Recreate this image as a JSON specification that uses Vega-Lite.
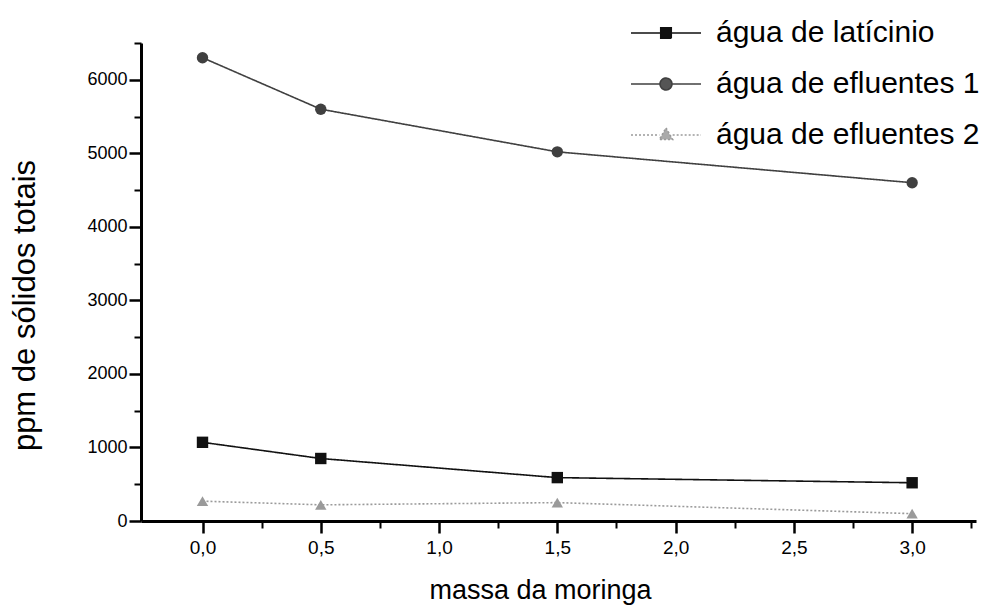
{
  "$schema": "https://vega.github.io/schema/vega-lite/v6.json",
  "width": 835,
  "height": 478,
  "autosize": "none",
  "padding": {"left": 141, "top": 43, "right": 13, "bottom": 87},
  "background": "white",
  "config": {
    "view": {"stroke": null},
    "font": "Liberation Sans",
    "axis": {"grid": false, "domainColor": "black", "tickColor": "black", "labelColor": "black", "titleColor": "black", "labelFont": "Liberation Sans", "titleFont": "Liberation Sans", "titleFontWeight": "normal"}
  },
  "data": {
    "values": [
      {"serie": "água de latícinio", "massa": 0.0, "ppm": 1070},
      {"serie": "água de latícinio", "massa": 0.5, "ppm": 850},
      {"serie": "água de latícinio", "massa": 1.5, "ppm": 590},
      {"serie": "água de latícinio", "massa": 3.0, "ppm": 520},
      {"serie": "água de efluentes 1", "massa": 0.0, "ppm": 6300},
      {"serie": "água de efluentes 1", "massa": 0.5, "ppm": 5600},
      {"serie": "água de efluentes 1", "massa": 1.5, "ppm": 5020},
      {"serie": "água de efluentes 1", "massa": 3.0, "ppm": 4600},
      {"serie": "água de efluentes 2", "massa": 0.0, "ppm": 270},
      {"serie": "água de efluentes 2", "massa": 0.5, "ppm": 220},
      {"serie": "água de efluentes 2", "massa": 1.5, "ppm": 250},
      {"serie": "água de efluentes 2", "massa": 3.0, "ppm": 100}
    ]
  },
  "resolve": {
    "axis": {"x": "independent", "y": "independent"},
    "scale": {"shape": "independent"},
    "legend": {"color": "independent", "shape": "independent", "strokeDash": "independent", "fill": "independent", "stroke": "independent"}
  },
  "layer": [
    {
      "mark": {"type": "line", "strokeWidth": 1.6},
      "encoding": {
        "x": {"field": "massa", "type": "quantitative", "scale": {"domain": [-0.26, 3.27], "nice": false, "zero": false},
          "axis": {"orient": "bottom", "values": [0, 0.5, 1, 1.5, 2, 2.5, 3], "labelExpr": "replace(format(datum.value, '.1f'), '.', ',')", "tickSize": 12, "tickWidth": 2.5, "domainWidth": 3, "labelFontSize": 19, "labelPadding": 5, "title": "massa da moringa", "titleFontSize": 27, "titlePadding": 20, "titleX": 399}},
        "y": {"field": "ppm", "type": "quantitative", "scale": {"domain": [0, 6500], "nice": false},
          "axis": {"orient": "left", "values": [0, 1000, 2000, 3000, 4000, 5000, 6000], "format": "d", "tickSize": 12, "tickWidth": 2.5, "domainWidth": 3, "labelFontSize": 18, "labelPadding": 2, "title": "ppm de sólidos totais", "titleFontSize": 31, "titlePadding": 45, "titleY": 262}},
        "color": {"field": "serie", "type": "nominal", "scale": {"domain": ["água de latícinio", "água de efluentes 1", "água de efluentes 2"], "range": ["#111111", "#404040", "#9a9a9a"]}, "legend": null},
        "strokeDash": {"field": "serie", "type": "nominal", "scale": {"domain": ["água de latícinio", "água de efluentes 1", "água de efluentes 2"], "range": [[1, 0], [1, 0], [2, 2]]}, "legend": null}
      }
    },
    {
      "mark": {"type": "point", "filled": true, "size": 130, "opacity": 1},
      "encoding": {
        "x": {"field": "massa", "type": "quantitative", "axis": null},
        "y": {"field": "ppm", "type": "quantitative", "axis": null},
        "color": {"field": "serie", "type": "nominal", "legend": null},
        "shape": {"field": "serie", "type": "nominal", "scale": {"domain": ["água de latícinio", "água de efluentes 1", "água de efluentes 2"], "range": ["square", "circle", "triangle-up"]}, "legend": null}
      }
    },
    {
      "mark": {"type": "point", "filled": true, "opacity": 0, "size": 4900},
      "encoding": {
        "x": {"field": "massa", "type": "quantitative", "axis": {"orient": "bottom", "values": [0.25, 0.75, 1.25, 1.75, 2.25, 2.75, 3.25], "labels": false, "domain": false, "tickSize": 7, "tickWidth": 2, "title": null}},
        "y": {"field": "ppm", "type": "quantitative", "axis": {"orient": "left", "values": [500, 1500, 2500, 3500, 4500, 5500, 6500], "labels": false, "domain": false, "tickSize": 7, "tickWidth": 2, "title": null}},
        "fill": {"field": "serie", "type": "nominal", "scale": {"domain": ["água de latícinio", "água de efluentes 1", "água de efluentes 2"], "range": ["#111111", "#555555", "#aaaaaa"]},
          "legend": {"orient": "none", "legendX": 489, "legendY": -46, "title": null, "labelFontSize": 30, "labelFont": "Liberation Sans", "labelColor": "black", "labelLimit": 400, "symbolSize": 4900, "labelOffset": 14, "rowPadding": -15, "padding": 0, "symbolStrokeWidth": 1.6,
            "encode": {"symbols": {"update": {"opacity": {"value": 1}, "strokeWidth": {"value": 1.6}}}}}},
        "stroke": {"field": "serie", "type": "nominal", "scale": {"domain": ["água de latícinio", "água de efluentes 1", "água de efluentes 2"], "range": ["#111111", "#404040", "#9a9a9a"]},
          "legend": {"orient": "none", "legendX": 489, "legendY": -46, "title": null, "labelFontSize": 30, "labelFont": "Liberation Sans", "labelColor": "black", "labelLimit": 400, "symbolSize": 4900, "labelOffset": 14, "rowPadding": -15, "padding": 0, "symbolStrokeWidth": 1.6,
            "encode": {"symbols": {"update": {"opacity": {"value": 1}, "strokeWidth": {"value": 1.6}}}}}},
        "shape": {"field": "serie", "type": "nominal", "scale": {"domain": ["água de latícinio", "água de efluentes 1", "água de efluentes 2"], "range": ["M-1,0H-0.15M0.15,0H1M-0.15,-0.15H0.15V0.15H-0.15Z", "M-1,0H-0.17M0.17,0H1M0.17,0A0.17,0.17 0 1,1 -0.17,0A0.17,0.17 0 1,1 0.17,0Z", "M-1,0H-0.19M0.19,0H1M0,-0.2L0.19,0.13H-0.19Z"]},
          "legend": {"orient": "none", "legendX": 489, "legendY": -46, "title": null, "labelFontSize": 30, "labelFont": "Liberation Sans", "labelColor": "black", "labelLimit": 400, "symbolSize": 4900, "labelOffset": 14, "rowPadding": -15, "padding": 0, "symbolStrokeWidth": 1.6,
            "encode": {"symbols": {"update": {"opacity": {"value": 1}, "strokeWidth": {"value": 1.6}}}}}},
        "strokeDash": {"field": "serie", "type": "nominal",
          "legend": {"orient": "none", "legendX": 489, "legendY": -46, "title": null, "labelFontSize": 30, "labelFont": "Liberation Sans", "labelColor": "black", "labelLimit": 400, "symbolSize": 4900, "labelOffset": 14, "rowPadding": -15, "padding": 0, "symbolStrokeWidth": 1.6,
            "encode": {"symbols": {"update": {"opacity": {"value": 1}, "strokeWidth": {"value": 1.6}}}}}}
      }
    }
  ]
}
